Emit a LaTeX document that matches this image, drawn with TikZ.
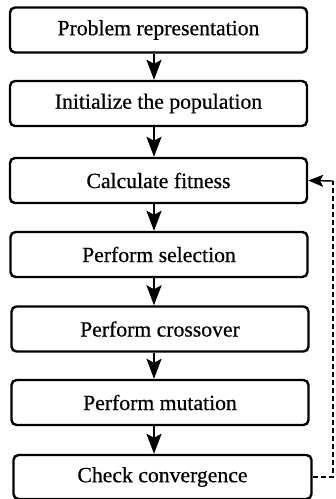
\documentclass[tikz,border=0pt]{standalone}
\usepackage{fontspec}
\setmainfont{Liberation Serif}
\newfontfamily\scanfont{Liberation Serif}[FakeBold=0.6]
\usetikzlibrary{arrows.meta}
\begin{document}
\begin{tikzpicture}[x=1pt,y=-1pt,
  stepbox/.style={draw, line width=2.4pt, rounded corners=5pt, minimum height=45pt, inner sep=0pt, font=\scanfont\fontsize{21.7}{24}\selectfont},
  flow/.style={line width=2.2pt, -{Stealth[length=20pt,width=15pt,inset=4pt]}},
  loop/.style={line width=1.4pt, dash pattern=on 5pt off 3pt}]
\useasboundingbox (0,0) rectangle (336,499);
\node[stepbox, minimum width=297pt] (b1) at (158.5,30) {Problem representation};
\node[stepbox, minimum width=297pt] (b2) at (158.5,103.5) {Initialize the population};
\node[stepbox, minimum width=297pt] (b3) at (158.5,180.5) {Calculate fitness};
\node[stepbox, minimum width=297pt] (b4) at (159,254.5) {Perform selection};
\node[stepbox, minimum width=297pt] (b5) at (160,329) {Perform crossover};
\node[stepbox, minimum width=297pt] (b6) at (160,402.5) {Perform mutation};
\node[stepbox, minimum width=298pt, minimum height=44pt] (b7) at (162.5,477) {Check convergence};
\foreach \a/\b in {b1/b2,b2/b3,b3/b4,b4/b5,b5/b6,b6/b7}
  \draw[flow] (\a.south -| 154,0) -- (\b.north -| 154,0);
\coordinate (c1) at (333,477);
\coordinate (c2) at (333,181);
\draw[loop] (b7.east) -- (c1) -- (c2);
\draw[line width=1.4pt, -{Stealth[length=15pt,width=12pt,inset=3pt]}] (c2) -- (b3.east);
\end{tikzpicture}
\end{document}
